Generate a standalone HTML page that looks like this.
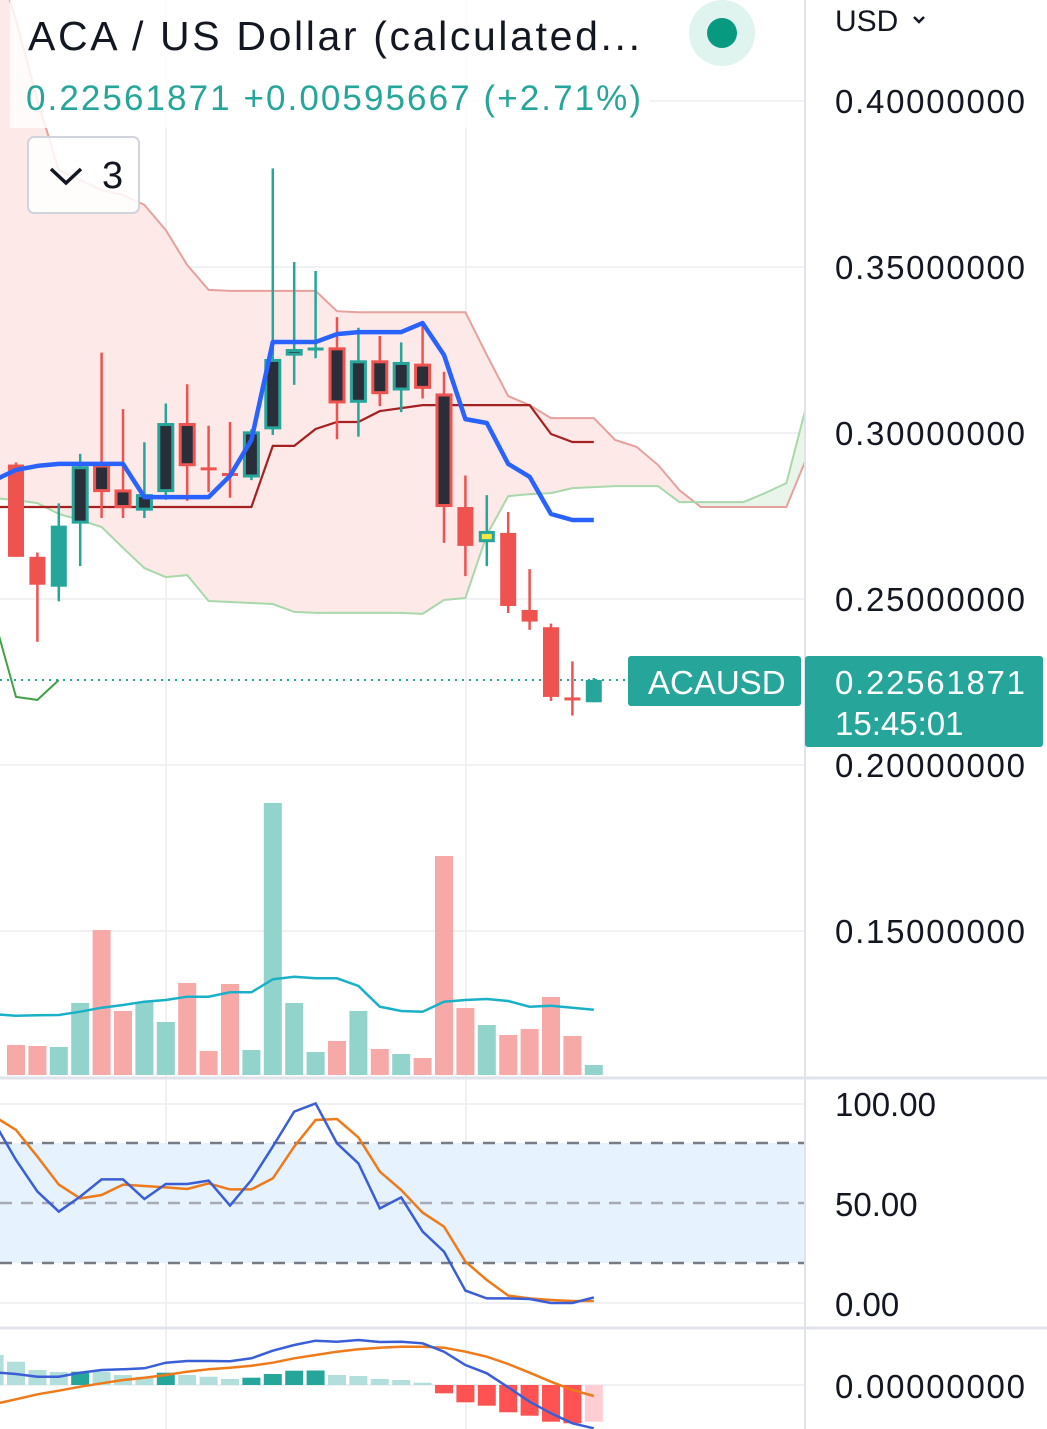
<!DOCTYPE html>
<html><head><meta charset="utf-8">
<style>
html,body{margin:0;padding:0;background:#fff;}
svg{display:block;font-family:"Liberation Sans",sans-serif;}
</style></head>
<body>
<svg id="chart" width="1047" height="1429" viewBox="0 0 1047 1429" xmlns="http://www.w3.org/2000/svg">
<defs>
<clipPath id="pp"><rect x="0" y="0" width="805" height="1077"/></clipPath>
<clipPath id="sp"><rect x="0" y="1079" width="805" height="247"/></clipPath>
<clipPath id="mp"><rect x="0" y="1329" width="805" height="100"/></clipPath>
</defs>
<g id="grid"></g>
<g id="price" clip-path="url(#pp)"></g>
<g id="stoch" clip-path="url(#sp)"></g>
<g id="macd" clip-path="url(#mp)"></g>
<g id="axis"></g>
<g id="hdr"></g>
</svg>
<script>
// ---- data (index -1 .. 27 for candle-aligned series) ----
const candleOpen  = [0.2905,0.2627,0.2537,0.2727,0.2905,0.2830,0.2766,0.2822,0.3030,0.2892,0.2875,0.2866,0.3011,0.3233,0.3253,0.3258,0.3091,0.3219,0.3128,0.3209,0.3119,0.2777,0.2671,0.2699,0.2467,0.2415,0.2199,0.2189];
const candleHigh  = [0.2911,0.2640,0.2788,0.2937,0.3242,0.3072,0.2972,0.3089,0.3147,0.3022,0.3033,0.3011,0.3797,0.3515,0.3488,0.3349,0.3317,0.3292,0.3273,0.3334,0.3184,0.2872,0.2813,0.2762,0.2590,0.2426,0.2312,0.2262];
const candleLow   = [0.2627,0.2371,0.2493,0.2599,0.2744,0.2744,0.2744,0.2799,0.2796,0.2822,0.2805,0.2858,0.2994,0.3145,0.3225,0.2981,0.2989,0.3081,0.3063,0.3104,0.2669,0.2569,0.2599,0.2458,0.2407,0.2193,0.2149,0.2189];
const candleClose = [0.2627,0.2543,0.2721,0.2900,0.2822,0.2774,0.2816,0.3030,0.2900,0.2892,0.2875,0.3005,0.3223,0.3253,0.3253,0.3089,0.3219,0.3117,0.3214,0.3133,0.2777,0.2660,0.2705,0.2479,0.2432,0.2205,0.2199,0.2256];
const candleStyle = ['r','r','g','gh','rh','rh','gh','gh','rh','r','r','gh','gh','gh','g','rh','gh','rh','gh','rh','rh','r','y','r','r','r','r','g'];
const volume = [30,29,28,72,145,64,73,53,92,24,91,25,272,72,23,34,64,26,21,17,219,67,50,40,46,78,39,10];
const volumeMA = [60.7,59.3,59.7,60,63.3,67.3,70,73.3,75,78.3,78.3,82.7,82.7,95.7,98.3,96.7,96.7,89,68.3,64,63.3,73.3,75,76,74,68.3,69.3,67.3,65.3];
// cloud, index -1 .. 37
const cloudUpper = [0.4455,0.4244,0.4003,0.3792,0.3762,0.3732,0.3717,0.3687,0.3611,0.3506,0.3431,0.3428,0.3428,0.3428,0.3428,0.3428,0.3367,0.3364,0.3364,0.3364,0.3364,0.3364,0.3364,0.3235,0.3111,0.3084,0.3045,0.3045,0.3045,0.2979,0.2958,0.2904,0.2828,0.2777,0.2777,0.2777,0.2777,0.2777,0.2934];
const cloudLower = [0.2804,0.2798,0.2789,0.2756,0.2738,0.2717,0.2654,0.2593,0.2566,0.2572,0.2494,0.2491,0.2488,0.2485,0.2461,0.2458,0.2458,0.2458,0.2458,0.2458,0.2455,0.2497,0.2503,0.2693,0.2810,0.2816,0.2819,0.2834,0.2837,0.2840,0.2840,0.2840,0.2792,0.2792,0.2792,0.2792,0.2819,0.2849,0.3099];
const conversionLine = [0.2858,0.2889,0.2901,0.2907,0.2907,0.2907,0.2907,0.2807,0.2807,0.2807,0.2807,0.2871,0.2979,0.3274,0.3274,0.3274,0.3298,0.3304,0.3304,0.3304,0.3331,0.3235,0.3042,0.3030,0.2907,0.2868,0.2756,0.2738,0.2738];
const baseLine = [0.2777,0.2777,0.2777,0.2777,0.2777,0.2777,0.2777,0.2777,0.2777,0.2777,0.2777,0.2777,0.2777,0.2961,0.2961,0.3012,0.3033,0.3033,0.3066,0.3075,0.3084,0.3084,0.3084,0.3084,0.3084,0.3084,0.2997,0.2973,0.2973];
const laggingSpan = [0.2437,0.2205,0.2196,0.2256];
const stochK = [90,71.5,55.7,45.7,53.2,61.8,61.8,52,59.5,59.5,61.2,48.7,61.5,78.2,95.7,99.8,79.8,69.8,47.3,52.8,35.7,25.7,6.2,2.3,2.3,2,0,0,2.8];
const stochD = [93.2,86.5,73.2,59.2,52.3,54,59.2,58.5,57.8,57,59.8,56.8,56.8,62.3,78.2,91.5,92,82.8,65.7,56.5,45.2,38.2,20.7,11.5,3.7,2.3,1.5,1,1];
const macdHist = [30,23.3,15,13,13.3,13.3,10,8.3,12.3,10,8.3,6,7.3,11,14.3,14.5,10,9,6,5,2.3,-8.3,-17.3,-20.7,-27.3,-30.7,-36.7,-38.3,-36.7];
const macdLine = [12.7,11,8.3,8.3,12.3,15,15.7,16.7,22.3,24,24,23.7,26.7,34.3,40,44.3,43.3,45,43,43.3,41.7,33.3,20,11.7,-2.3,-16.7,-28.3,-38.3,-43.3];
const signalLine = [-19,-14.3,-9.3,-5.7,-1.7,1.7,5,7.3,10,13.3,15.7,17.3,19.3,22.3,26.7,30,33.3,35.7,37.3,38.3,38.3,37.3,33.3,28.3,21,12.3,3.3,-5,-11];
const priceTicks = [0.40,0.35,0.30,0.25,0.20,0.15];
const stochTicks = [100,50,0];
const lastPrice = 0.22561871;

// ---- scales ----
const NS="http://www.w3.org/2000/svg";
const X = i => 16 + 21.4*i;           // i = candle index (0-based)
const YP = p => 101 + (0.40-p)*3320;
const YV = v => 1075 - v;
const YS = v => 1303 - 2*v;
const YM = v => 1385 - v;
function mk(parent, tag, attrs){const e=document.createElementNS(NS,tag);for(const k in attrs)e.setAttribute(k,attrs[k]);parent.appendChild(e);return e;}
function pts(arr, start, yf){return arr.map((v,k)=>X(start+k).toFixed(1)+','+yf(v).toFixed(1)).join(' ');}
const G=id=>document.getElementById(id);

// ---- grid ----
const grid=G('grid');
priceTicks.forEach(t=>{const l=mk(grid,'line',{x1:0,x2:805,y1:YP(t),y2:YP(t),stroke:'#f0f1f3','stroke-width':2});

});
[166,466].forEach(x=>{const l=mk(grid,'line',{x1:x,x2:x,y1:0,y2:1429,stroke:'#f0f1f3','stroke-width':2});

});
[1104,1303].forEach(y=>{const l=mk(grid,'line',{x1:0,x2:805,y1:y,y2:y,stroke:'#f0f1f3','stroke-width':2});

});
mk(grid,'line',{x1:0,x2:805,y1:1385,y2:1385,stroke:'#f0f1f3','stroke-width':2});

// ---- price pane ----
const pr=G('price');
// cloud fill segments
for(let k=0;k<cloudUpper.length-1;k++){
  const i=k-1, u0=YP(cloudUpper[k]),u1=YP(cloudUpper[k+1]),l0=YP(cloudLower[k]),l1=YP(cloudLower[k+1]);
  const bear=(cloudUpper[k]+cloudUpper[k+1])>(cloudLower[k]+cloudLower[k+1]);
  const q=mk(pr,'polygon',{points:`${X(i)},${u0} ${X(i+1)},${u1} ${X(i+1)},${l1} ${X(i)},${l0}`,fill:bear?'#fde9e8':'#eaf5ea',stroke:bear?'#fde9e8':'#eaf5ea','stroke-width':0.6});
  
  
}
let e=mk(pr,'polyline',{points:pts(cloudUpper,-1,YP),fill:'none',stroke:'#e6a19d','stroke-width':2});

e=mk(pr,'polyline',{points:pts(cloudLower,-1,YP),fill:'none',stroke:'#a9d8aa','stroke-width':2});

// volume
volume.forEach((v,i)=>{const up=candleStyle[i][0]!=='r';
  const r=mk(pr,'rect',{x:X(i)-9,y:YV(v),width:18,height:v,fill:up?'#92d3cc':'#f6a9a7'});
  
  });
e=mk(pr,'polyline',{points:pts(volumeMA,-1,YV),fill:'none',stroke:'#1ab0c8','stroke-width':2.5});

// lines
e=mk(pr,'polyline',{points:pts(baseLine,-1,YP),fill:'none',stroke:'#a52121','stroke-width':2.2});

e=mk(pr,'polyline',{points:pts(laggingSpan,-1,YP),fill:'none',stroke:'#43a047','stroke-width':2});

// last price line
e=mk(pr,'line',{x1:0,x2:628,y1:YP(lastPrice),y2:YP(lastPrice),stroke:'#26a69a','stroke-width':2,'stroke-dasharray':'2 5'});

// candles
candleOpen.forEach((o,i)=>{
  const s=candleStyle[i], c=candleClose[i], h=candleHigh[i], l=candleLow[i];
  const col = s[0]==='r' ? '#ef5350' : '#26a69a';
  const g=mk(pr,'g',{});
  
  
  mk(g,'line',{x1:X(i),x2:X(i),y1:YP(h),y2:YP(l),stroke:col,'stroke-width':2.5});
  const top=YP(Math.max(o,c)), bot=YP(Math.min(o,c));
  if(bot-top<3){ mk(g,'rect',{x:X(i)-8,y:top-1.5,width:16,height:3,fill:col}); return; }
  if(s==='gh'||s==='rh') mk(g,'rect',{x:X(i)-7,y:top+1.5,width:14,height:bot-top-3,fill:'#2a2e39',stroke:col,'stroke-width':3});
  else if(s==='y') mk(g,'rect',{x:X(i)-6.5,y:top+1.5,width:13,height:bot-top-3,fill:'#f5e642',stroke:col,'stroke-width':3});
  else mk(g,'rect',{x:X(i)-8,y:top,width:16,height:bot-top,fill:col});
});
e=mk(pr,'polyline',{points:pts(conversionLine,-1,YP),fill:'none',stroke:'#2962ff','stroke-width':4.5,'stroke-linejoin':'round'});


// ---- pane separators ----
const ax=G('axis');
[1078,1328].forEach(y=>{const l=mk(ax,'line',{x1:0,x2:1047,y1:y,y2:y,stroke:'#e0e3eb','stroke-width':3});
});
e=mk(ax,'line',{x1:805,x2:805,y1:0,y2:1429,stroke:'#e0e3eb','stroke-width':2});


// ---- stoch pane ----
const st=G('stoch');
e=mk(st,'rect',{x:0,y:YS(80),width:805,height:YS(20)-YS(80),fill:'#e6f2fd'});

[[80,'#787b86'],[50,'#a8abb5'],[20,'#787b86']].forEach(([v,c])=>{const l=mk(st,'line',{x1:0,x2:805,y1:YS(v),y2:YS(v),stroke:c,'stroke-width':2.5,'stroke-dasharray':'12 9'});
});
e=mk(st,'polyline',{points:pts(stochD,-1,YS),fill:'none',stroke:'#ef7a1a','stroke-width':2.5});

e=mk(st,'polyline',{points:pts(stochK,-1,YS),fill:'none',stroke:'#3a5ed6','stroke-width':2.5});


// ---- macd pane ----
const mc=G('macd');
macdHist.forEach((v,k)=>{const i=k-1, p=k>0?macdHist[k-1]:v;
  let col = v>=0 ? (v>p?'#26a69a':'#b2dfdb') : (v<p?'#ff5252':'#ffcdd2');
  const r=mk(mc,'rect',{x:X(i)-9,y:Math.min(YM(v),YM(0)),width:18,height:Math.abs(v),fill:col});
  
  });
e=mk(mc,'polyline',{points:pts(signalLine,-1,YM),fill:'none',stroke:'#ef7a1a','stroke-width':2.5});

e=mk(mc,'polyline',{points:pts(macdLine,-1,YM),fill:'none',stroke:'#3a5ed6','stroke-width':2.5});


// ---- axis labels ----
function txt(parent,x,y,s,attrs,name,inter){const t=mk(parent,'text',Object.assign({x:x,y:y},attrs));t.textContent=s;
  return t;}
priceTicks.forEach(t=>txt(ax,835,YP(t)+12,t.toFixed(8),{'font-size':33,fill:'#131722',textLength:190},'price-tick-label',false));
stochTicks.forEach(t=>txt(ax,835,YS(t)+13,t.toFixed(2),{'font-size':33,fill:'#131722'},'stoch-tick-label',false));
txt(ax,835,1398,'0.00000000',{'font-size':33,fill:'#131722',textLength:190},'macd-tick-label',false);
txt(ax,835,31,'USD',{'font-size':30,fill:'#131722'},'currency-selector',true);
mk(ax,'polyline',{points:'914,17 919,22 924,17',fill:'none',stroke:'#131722','stroke-width':2.5});
// last price labels
e=mk(ax,'rect',{x:628,y:656,width:173,height:50,rx:3,fill:'#26a69a'});

txt(ax,648,694,'ACAUSD',{'font-size':33,fill:'#fff'},'symbol-label-text',false);
e=mk(ax,'rect',{x:805,y:656,width:238,height:91,rx:3,fill:'#26a69a'});

txt(ax,835,694,lastPrice.toFixed(8),{'font-size':33,fill:'#fff',textLength:190},'last-price-value',false);
txt(ax,835,735,'15:45:01',{'font-size':33,fill:'#fff'},'countdown',false);

// ---- header ----
const hd=G('hdr');
e=mk(hd,'rect',{x:10,y:0,width:640,height:128,fill:'rgba(255,255,255,0.82)'});

txt(hd,28,50,'ACA / US Dollar (calculated...',{'font-size':41,fill:'#131722',textLength:612},'symbol-title',true);
txt(hd,26,110,'0.22561871  +0.00595667 (+2.71%)',{'font-size':35,fill:'#26a69a',textLength:615,'xml:space':'preserve'},'price-change',false);
e=mk(hd,'circle',{cx:722,cy:33,r:33,fill:'#dff3ef'});

mk(hd,'circle',{cx:722,cy:33,r:15,fill:'#089981'});
e=mk(hd,'rect',{x:28,y:137,width:111,height:76,rx:6,fill:'rgba(255,255,255,0.85)',stroke:'#d1d4dc','stroke-width':2});

mk(hd,'polyline',{points:'51,169 66,183 81,169',fill:'none',stroke:'#131722','stroke-width':3.5});
txt(hd,102,188,'3',{'font-size':38,fill:'#131722'},'indicator-count',false);
</script>
</body></html>
